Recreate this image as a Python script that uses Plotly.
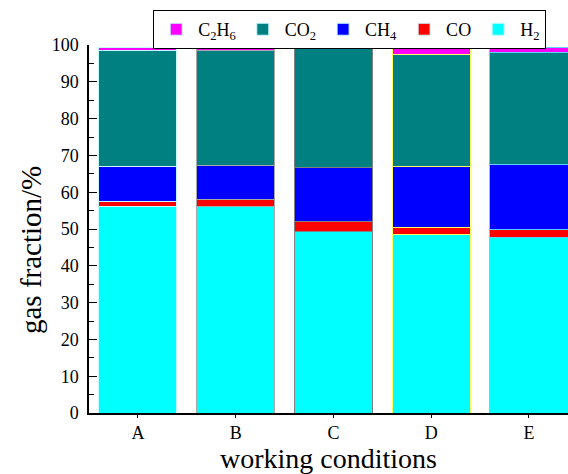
import plotly.graph_objects as go

categories = ["A", "B", "C", "D", "E"]
h2 = [56.0, 56.0, 49.4, 48.6, 47.8]
co = [1.6, 1.9, 2.7, 1.9, 2.2]
ch4 = [9.3, 9.3, 14.5, 16.6, 17.6]
co2 = [31.5, 31.3, 32.5, 30.2, 30.4]
c2h6 = [1.0, 1.3, 0.8, 2.3, 1.4]

series = [
    ("H<sub>2</sub>", h2, "#00ffff"),
    ("CO", co, "#ff0000"),
    ("CH<sub>4</sub>", ch4, "#0000ff"),
    ("CO<sub>2</sub>", co2, "#008080"),
    ("C<sub>2</sub>H<sub>6</sub>", c2h6, "#ff00ff"),
]
outline = ["#c8f8ff", "#a8a8a8", "#808080", "#ffff60", "#60d0ff"]

fig = go.Figure()
for name, vals, color in series:
    fig.add_trace(go.Bar(
        x=categories, y=vals, name=name, width=0.8,
        marker=dict(color=color, line=dict(color=outline, width=1)),
    ))

font = "Liberation Serif, Times New Roman, serif"
fig.update_layout(
    barmode="stack",
    width=568, height=474,
    margin=dict(l=89, r=0, t=45, b=61, autoexpand=False),
    paper_bgcolor="white", plot_bgcolor="white",
    font=dict(family=font, size=18, color="black"),
    showlegend=True,
    legend=dict(
        orientation="h", traceorder="reversed",
        x=0.134, y=1.095, xanchor="left", yanchor="top",
        bordercolor="black", borderwidth=1, bgcolor="white",
        font=dict(family=font, size=18),
        itemwidth=34, tracegroupgap=0,
    ),
    bargap=0.2,
    annotations=[dict(
        text="gas fraction/%", textangle=-90, showarrow=False,
        xref="paper", yref="paper", x=-0.121, y=0.443,
        xanchor="center", yanchor="middle",
        font=dict(family=font, size=29),
    )],
)
fig.update_xaxes(
    range=[-0.5, 4.40], showline=True, linecolor="black", linewidth=1.5,
    ticks="outside", ticklen=3, tickcolor="black", showgrid=False,
    tickfont=dict(family=font, size=18),
    title=dict(text="working conditions", font=dict(family=font, size=28), standoff=6),
    automargin=False,
)
fig.update_yaxes(
    range=[0, 100], showline=True, linecolor="black", linewidth=1.5,
    ticks="inside", ticklen=8, tickcolor="black", dtick=10, showgrid=False,
    zeroline=False,
    minor=dict(ticks="inside", ticklen=5, dtick=5, tickcolor="black"),
    tickfont=dict(family=font, size=18),
    ticklabelstandoff=5,
    automargin=False,
)

fig.write_html("out.html")
